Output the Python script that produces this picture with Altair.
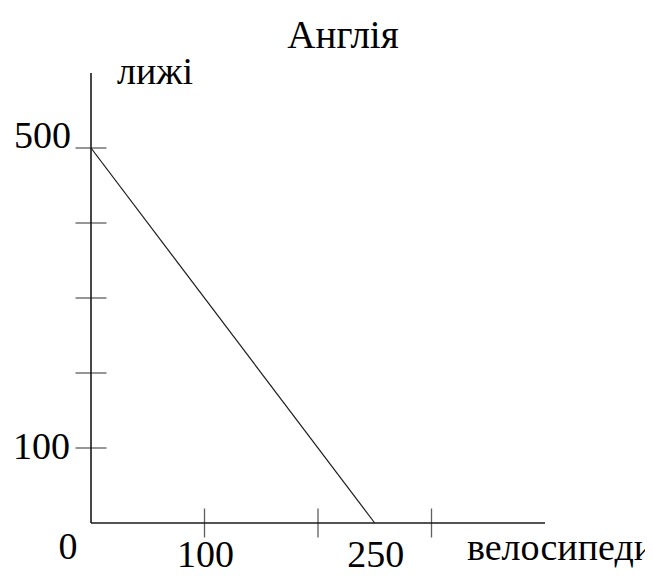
import altair as alt
import pandas as pd

# ---- chart content ----
title_text = "Англія"
x_name = "велосипеди"
y_name = "лижі"
ppf_bikes = [0, 250]
ppf_skis = [500, 0]
x_axis_end = 400
y_axis_end = 600
x_tick_values = [100, 200, 300]
y_tick_values = [100, 200, 300, 400, 500]
x_label_values = [100, 250]
origin_label = "0"
y_top_label = [500]
y_low_label = [100]

FONT = "Liberation Serif"
INK = "#1a1a1a"
W, H = 637, 569

xs = alt.Scale(domain=[-73.13, 488.1], nice=False, zero=False)
ys = alt.Scale(domain=[-72.0, 686.67], nice=False, zero=False)


def X(field="x"):
    return alt.X(f"{field}:Q", scale=xs, axis=None)


def Y(field="y"):
    return alt.Y(f"{field}:Q", scale=ys, axis=None)


ppf = alt.Chart(pd.DataFrame({"x": ppf_bikes, "y": ppf_skis})).mark_line(
    color=INK, strokeWidth=1.2
).encode(x=X(), y=Y())

x_axis = alt.Chart(pd.DataFrame({"x": [0], "x2": [x_axis_end], "y": [0]})).mark_rule(
    color=INK, strokeWidth=1.6
).encode(x=X(), x2="x2:Q", y=Y())

y_axis = alt.Chart(pd.DataFrame({"x": [0], "y": [0], "y2": [y_axis_end]})).mark_rule(
    color=INK, strokeWidth=1.6
).encode(x=X(), y=Y(), y2="y2:Q")

x_ticks = alt.Chart(pd.DataFrame({"x": x_tick_values, "y": [0] * len(x_tick_values)})).mark_tick(
    orient="vertical", size=29, thickness=1.3, color=INK
).encode(x=X(), y=Y())

y_ticks = alt.Chart(pd.DataFrame({"x": [0] * len(y_tick_values), "y": y_tick_values})).mark_tick(
    orient="horizontal", size=31, thickness=1.3, color=INK
).encode(x=X(), y=Y())

txt = dict(font=FONT, fontSize=38, color="black")

y_lab_top = alt.Chart(pd.DataFrame({"x": [0], "y": y_top_label})).mark_text(
    align="right", baseline="alphabetic", dx=-20, **txt
).encode(x=X(), y=Y(), text="y:Q")

y_lab_low = alt.Chart(pd.DataFrame({"x": [0], "y": y_low_label})).mark_text(
    align="right", baseline="middle", dx=-21, **txt
).encode(x=X(), y=Y(), text="y:Q")

x_labs = alt.Chart(pd.DataFrame({"x": x_label_values, "y": [0] * len(x_label_values)})).mark_text(
    align="center", baseline="alphabetic", dy=44, dx=1, **txt
).encode(x=X(), y=Y(), text="x:Q")

origin = alt.Chart(pd.DataFrame({"x": [0], "y": [0], "t": [origin_label]})).mark_text(
    align="center", baseline="alphabetic", dx=-23, dy=36, **txt
).encode(x=X(), y=Y(), text="t:N")

y_title = alt.Chart(pd.DataFrame({"x": [0], "y": [y_axis_end], "t": [y_name]})).mark_text(
    align="left", baseline="alphabetic", dx=26, dy=11, **txt
).encode(x=X(), y=Y(), text="t:N")

x_title = alt.Chart(pd.DataFrame({"x": [x_axis_end], "y": [0], "t": [x_name]})).mark_text(
    align="left", baseline="alphabetic", dx=-78, dy=37, **txt
).encode(x=X(), y=Y(), text="t:N")

title = alt.Chart(pd.DataFrame({"t": [title_text]})).mark_text(
    align="center", baseline="alphabetic", font=FONT, fontSize=39, color="black"
).encode(x=alt.value(335), y=alt.value(40), text="t:N")

chart = alt.layer(
    x_axis, y_axis, x_ticks, y_ticks, ppf,
    y_lab_top, y_lab_low, x_labs, origin, y_title, x_title, title,
).properties(
    width=W,
    height=H,
    padding=0,
    autosize=alt.AutoSizeParams(type="none"),
).configure_view(stroke=None)

chart.save("out.html", embed_options={"renderer": "svg", "actions": False})
